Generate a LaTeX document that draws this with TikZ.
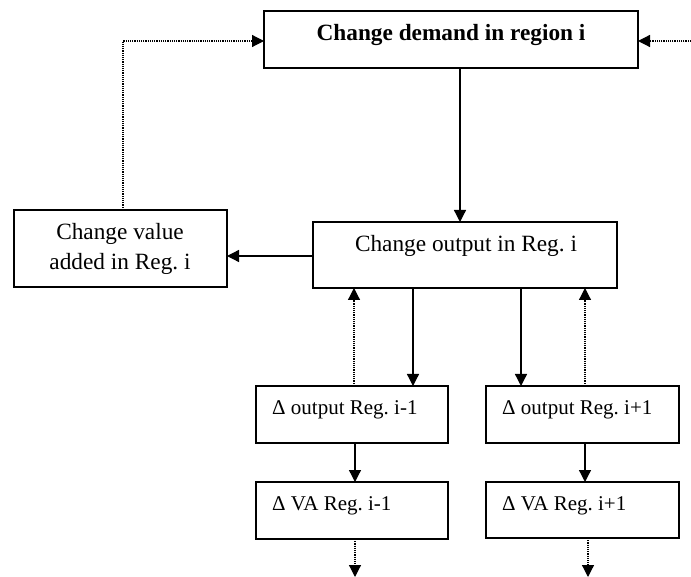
\documentclass[tikz,border=0pt]{standalone}
\usepackage{fontspec}
\setmainfont{Liberation Serif}
\usetikzlibrary{arrows.meta}
\frenchspacing
\begin{document}
\begin{tikzpicture}[x=1pt,y=-1pt,
  box/.style={draw, line width=1.4pt, inner sep=0pt, outer sep=0pt},
  big/.style={font=\fontsize{23.3}{30}\selectfont, inner sep=0pt, anchor=base},
  small/.style={font=\fontsize{21}{26}\selectfont, inner sep=0pt, anchor=base west},
  arr/.style={line width=1.3pt, -{Triangle[length=12pt,width=12pt]}},
  dotarr/.style={line width=1.2pt, dash pattern=on 1.2pt off 1pt, -{Triangle[length=12pt,width=12pt]}}]
\useasboundingbox (0,0) rectangle (691,577);
% boxes
\node[box, minimum width=374pt, minimum height=57pt] (top) at (451,39.5) {};
\node[box, minimum width=304pt, minimum height=66pt] (mid) at (465,255) {};
\node[box, minimum width=213pt, minimum height=77pt] (left) at (120.5,248.5) {};
\node[box, minimum width=192pt, minimum height=57pt] (outL) at (352,414.5) {};
\node[box, minimum width=193pt, minimum height=57pt] (outR) at (582.5,414.5) {};
\node[box, minimum width=192pt, minimum height=57pt] (vaL) at (352,510.5) {};
\node[box, minimum width=193pt, minimum height=56pt] (vaR) at (582.5,510) {};
% texts
\node[big, font=\fontsize{23.3}{30}\selectfont\bfseries] (tTop) at (451,41) {Change demand in region i};
\node[big] (tMid) at (466,252) {Change output in Reg. i};
\node[big] (tLeft1) at (120,240) {Change value};
\node[big] (tLeft2) at (120,270) {added in Reg. i};
\node[small] (tOutL) at (272,414) {Δ output Reg. i-1};
\node[small] (tOutR) at (502,414) {Δ output Reg. i+1};
\node[small] (tVaL) at (272,510) {Δ VA Reg. i-1};
\node[small] (tVaR) at (502,510) {Δ VA Reg. i+1};
% free ends
\coordinate (rightEnd) at (691,41);
\coordinate (endL) at (355,577);
\coordinate (endR) at (588,577);
% solid connectors
\draw[arr] (top.south -| 460,0) -- (mid.north -| 460,0);
\draw[arr] (mid.west |- 0,256) -- (left.east |- 0,256);
\draw[arr] (mid.south -| 413,0) -- (outL.north -| 413,0);
\draw[arr] (mid.south -| 521,0) -- (outR.north -| 521,0);
\draw[arr] (outL.south -| 355,0) -- (vaL.north -| 355,0);
\draw[arr] (outR.south -| 585,0) -- (vaR.north -| 585,0);
% dotted connectors
\draw[dotarr] (left.north -| 123,0) -- (123,41) -- (top.west |- 0,41);
\draw[dotarr] (rightEnd) -- (top.east |- 0,41);
\draw[dotarr] (outL.north -| 354,0) -- (mid.south -| 354,0);
\draw[dotarr] (outR.north -| 585,0) -- (mid.south -| 585,0);
\draw[dotarr] (vaL.south -| 355,0) -- (endL);
\draw[dotarr] (vaR.south -| 588,0) -- (endR);
\end{tikzpicture}
\end{document}
